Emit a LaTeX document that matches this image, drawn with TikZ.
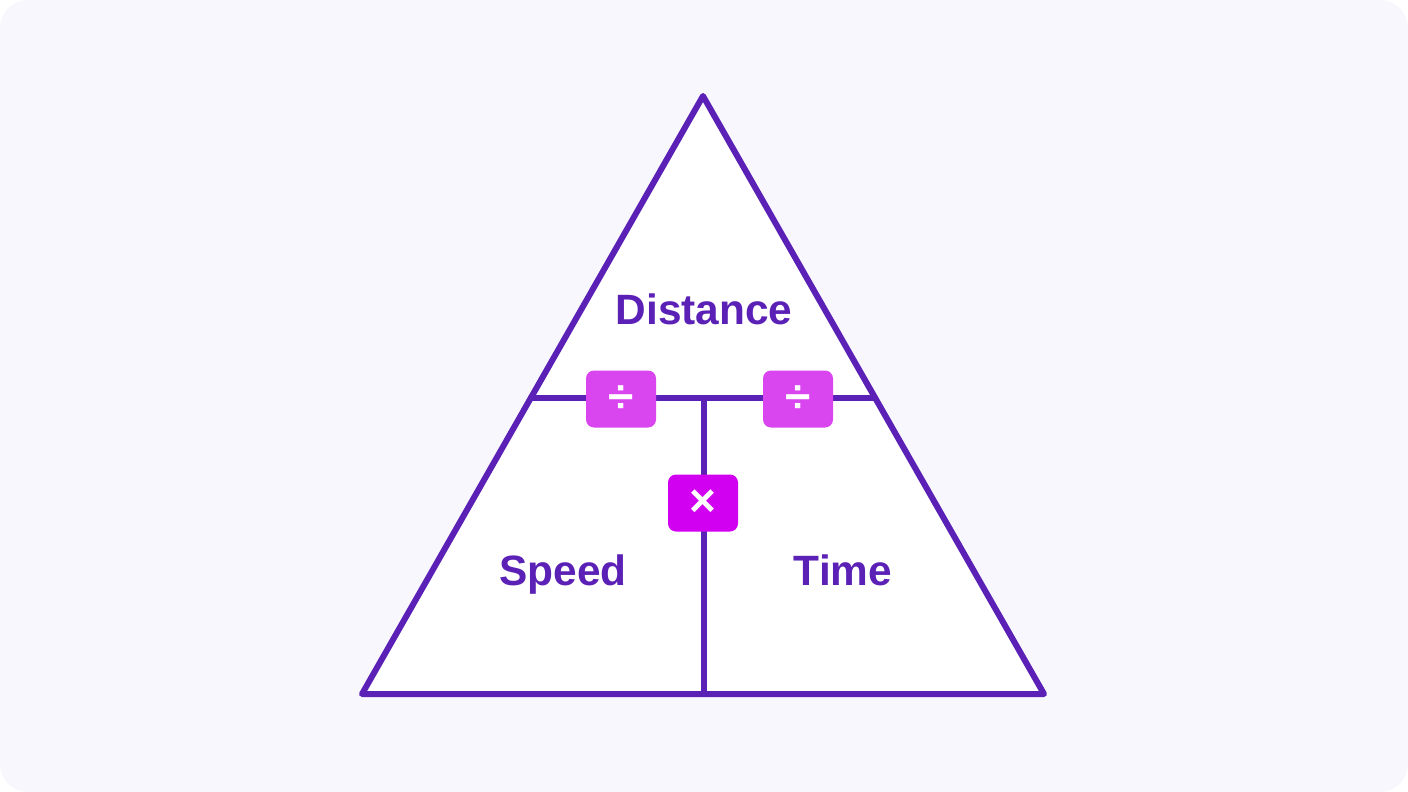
\documentclass[tikz,border=0pt]{standalone}
\usepackage{fontspec}
\setmainfont{Liberation Sans}
\usetikzlibrary{positioning}
\usetikzlibrary{calc}
\definecolor{bgpurple}{HTML}{F8F7FD}
\definecolor{linepurple}{HTML}{5B21B6}
\definecolor{divpink}{HTML}{D946EF}
\definecolor{mulpink}{HTML}{D100F0}

\begin{document}
\begin{tikzpicture}[x=0.5pt,y=-0.5pt]
			\tikzset{opbox/.style = {shape=rectangle,rounded corners=4pt,minimum width=35pt,minimum height=28.5pt,inner sep=0pt,text=white,font=\fontsize{23}{23}\selectfont\bfseries}}
			\tikzset{word/.style = {text=linepurple,font=\fontsize{21.2}{21.2}\selectfont\bfseries,inner sep=0pt,anchor=base}}
			\tikzset{edge/.style = {draw=linepurple,line width=3pt,line join=round,line cap=round}}
			% page
			\fill[bgpurple,rounded corners=14pt] (0,0) rectangle (1408,792);
			\useasboundingbox (0,0) rectangle (1408,792);
			% triangle
			\coordinate (TOP) at (703,96);
			\coordinate (LEFT) at (362,694);
			\coordinate (RIGHT) at (1044,694);
			\coordinate (MIDL) at ($(LEFT)!0.495!(TOP)$);
			\coordinate (MIDR) at ($(RIGHT)!0.495!(TOP)$);
			\coordinate (CROSS) at (704,398);
			\coordinate (FOOT) at (704,694);
			\fill[white] (TOP) -- (LEFT) -- (RIGHT) -- cycle;
			\draw[edge] (TOP) -- (LEFT) -- (RIGHT) -- cycle;
			\draw[edge] (MIDL) -- (MIDR);
			\draw[edge,line cap=butt] (CROSS) -- (FOOT);
			% labels
			\node[word] (DIST) at (704,324) {Distance};
			\node[word] (SPEED) at (563,585) {Speed};
			\node[word] (TIME) at (843,585) {Time};
			% operators
			\node[opbox,fill=divpink] (DIVL) at (621,399) {÷};
			\node[opbox,fill=divpink] (DIVR) at (798,399) {÷};
			\node[opbox,fill=mulpink] (MUL) at (703,503) {×};
\end{tikzpicture}
\end{document}
